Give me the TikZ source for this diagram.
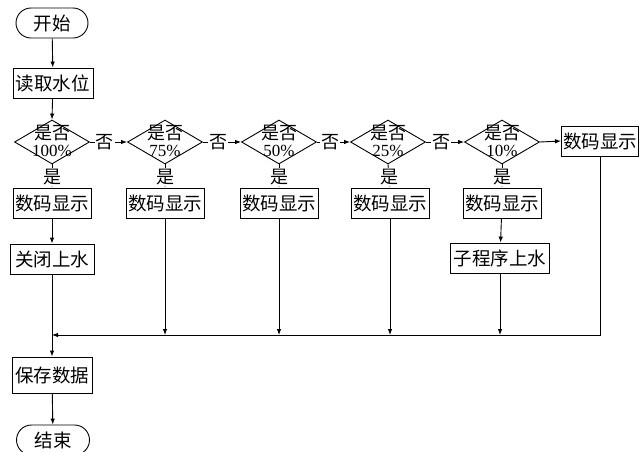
\documentclass[tikz,border=0pt]{standalone}
\usepackage{fontspec}
\setmainfont{Liberation Serif}
\newfontfamily\cjk{Noto Sans CJK SC}
\usetikzlibrary{shapes.geometric,arrows.meta}
\begin{document}
\begin{tikzpicture}[x=1pt,y=-1pt,
  line width=0.9pt,
  >={Latex[length=6pt,width=4.5pt]},
  box/.style={draw, line width=0.9pt, minimum height=30, inner sep=1.5pt, font=\cjk\fontsize{18.5}{18.5}\selectfont},
  term/.style={box, rounded corners=15, minimum width=72},
  dia/.style={diamond, draw, line width=0.9pt, minimum width=75, minimum height=44, inner sep=0pt},
  dtext/.style={align=center, inner sep=0pt, font=\fontsize{17}{17.5}\selectfont},
  lab/.style={fill=white, inner sep=1pt, font=\cjk\fontsize{18}{18}\selectfont}
]
\useasboundingbox (0,0) rectangle (642,451);

\node[term] (start) at (52,23) {开始};
\node[box, minimum width=80] (read) at (53,83) {读取水位};

\foreach \i/\x/\p in {1/52/100, 2/165/75, 3/279/50, 4/388/25, 5/502/10} {
  \node[dia] (d\i) at (\x,142) {};
  \node[dtext] (t\i) at (\x,141) {{\cjk\fontsize{18}{18}\selectfont 是否}\\\p\%};
}
\node[box, minimum width=76] (d6) at (600,141) {数码显示};

\foreach \i/\x in {1/52, 2/165, 3/279, 4/390, 5/502} {
  \node[box, minimum width=78] (b\i) at (\x,203) {数码显示};
}

\node[box, minimum width=84] (close) at (52,259) {关闭上水};
\node[box, minimum width=99] (sub) at (500,258) {子程序上水};
\node[box, minimum width=80, minimum height=36] (save) at (52,375) {保存数据};
\node[term, minimum width=73] (end) at (53,440) {结束};

\coordinate (m) at (52,335);

\draw[->] (start) -- (read);
\draw[->] (read) -- (d1.north);
\foreach \a/\b in {1/2, 2/3, 3/4, 4/5} {
  \draw[->] (d\a.east) -- node[lab, pos=0.4] (n\a) {否} (d\b.west);
}
\draw[->] (d5.east) -- (d6.west);
\foreach \i in {1,...,5} {
  \draw[->] (d\i.south) -- node[lab, pos=0.55] (y\i) {是} (b\i.north);
}
\draw[->] (b1) -- (close);
\draw[->] (close) -- (save);
\draw[->] (save) -- (end);
\draw[->] (b5) -- (sub);
\draw[->] (d6.south) |- (m);
\foreach \i in {2,3,4} {
  \draw[->] (b\i.south) -- (b\i.south |- m);
}
\draw[->] (sub.south) -- (sub.south |- m);
\end{tikzpicture}
\end{document}
